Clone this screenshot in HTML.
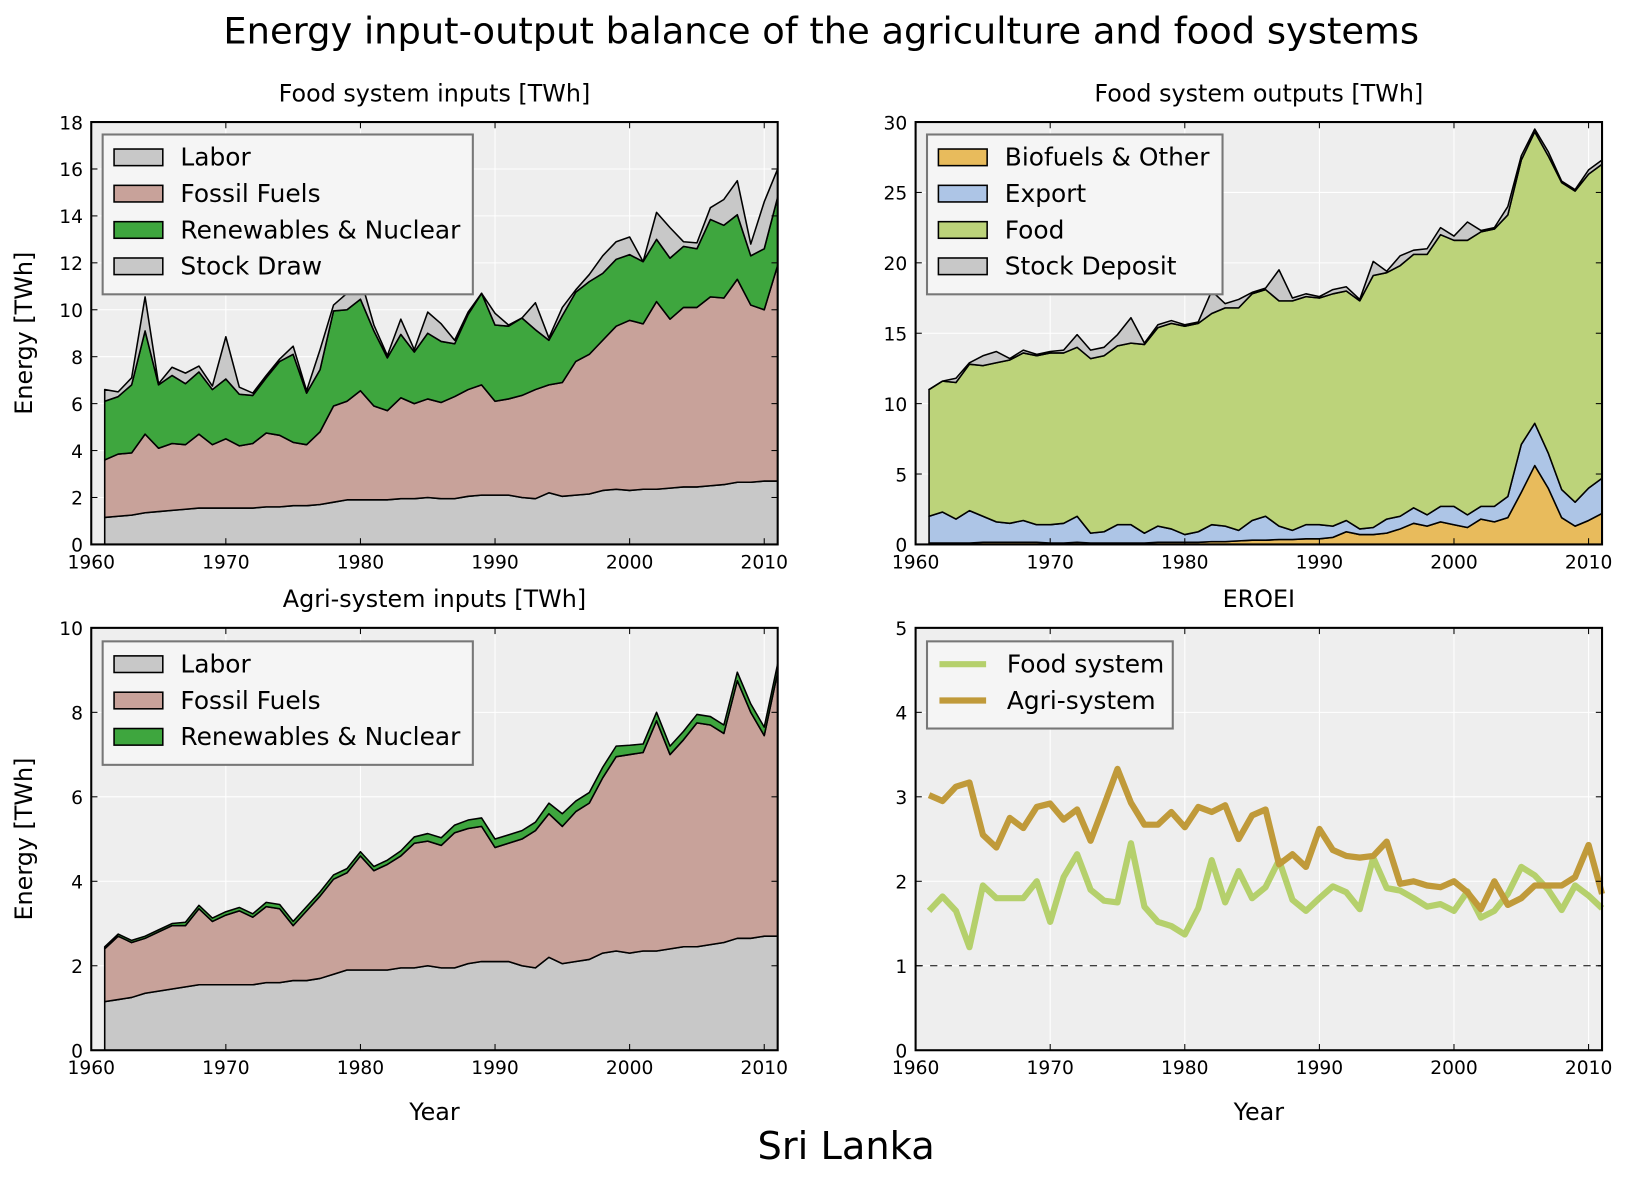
<!DOCTYPE html>
<html><head><meta charset="utf-8"><style>
html,body{margin:0;padding:0;background:#fff;}
svg{display:block;font-family:"DejaVu Sans","Liberation Sans",sans-serif;}
</style></head><body>
<svg id="fig" width="1629" height="1181" viewBox="0 0 1571 1138" preserveAspectRatio="none" xmlns="http://www.w3.org/2000/svg">
<text x="792" y="42" font-size="35.5" text-anchor="middle">Energy input-output balance of the agriculture and food systems</text>
<text x="816" y="1117" font-size="37" text-anchor="middle">Sri Lanka</text>
</svg>
<script>
const years=[];for(let y=1961;y<=2011;y++)years.push(y);
const xTicks=[1960,1970,1980,1990,2000,2010];
const labor=[1.15,1.2,1.25,1.35,1.4,1.45,1.5,1.55,1.55,1.55,1.55,1.55,1.6,1.6,1.65,1.65,1.7,1.8,1.9,1.9,1.9,1.9,1.95,1.95,2.0,1.95,1.95,2.05,2.1,2.1,2.1,2.0,1.95,2.2,2.05,2.1,2.15,2.3,2.35,2.3,2.35,2.35,2.4,2.45,2.45,2.5,2.55,2.65,2.65,2.7,2.7];
const fiFossilCum=[3.6,3.85,3.9,4.7,4.1,4.3,4.25,4.7,4.25,4.5,4.2,4.3,4.75,4.65,4.35,4.25,4.8,5.9,6.1,6.55,5.9,5.7,6.25,6.0,6.2,6.05,6.3,6.6,6.8,6.1,6.2,6.35,6.6,6.8,6.9,7.8,8.1,8.7,9.3,9.55,9.4,10.35,9.6,10.1,10.1,10.55,10.5,11.3,10.2,10.0,11.9];
const fiRenewCum=[6.1,6.3,6.8,9.1,6.8,7.2,6.85,7.35,6.6,7.05,6.4,6.35,7.1,7.8,8.1,6.45,7.45,9.95,10.0,10.45,9.1,7.95,8.95,8.2,9.0,8.65,8.55,9.8,10.7,9.35,9.3,9.65,9.15,8.7,9.75,10.75,11.2,11.55,12.15,12.35,12.05,13.0,12.2,12.7,12.6,13.85,13.6,14.05,12.3,12.6,14.8];
const fiStockCum=[6.6,6.5,7.1,10.55,6.85,7.55,7.3,7.6,6.75,8.85,6.7,6.45,7.2,7.9,8.45,6.55,8.3,10.2,10.7,11.35,9.35,8.05,9.6,8.3,9.9,9.4,8.7,9.9,10.7,9.85,9.35,9.65,10.3,8.8,10.1,10.85,11.5,12.3,12.9,13.1,12.05,14.15,13.5,12.9,12.85,14.35,14.7,15.5,12.8,14.6,16.0];
const foBio=[0.1,0.1,0.1,0.1,0.15,0.15,0.15,0.15,0.15,0.1,0.1,0.15,0.1,0.1,0.1,0.1,0.1,0.15,0.15,0.15,0.15,0.2,0.2,0.25,0.3,0.3,0.35,0.35,0.4,0.4,0.5,0.9,0.7,0.7,0.8,1.1,1.5,1.3,1.6,1.4,1.2,1.8,1.6,1.9,3.7,5.6,4.0,1.9,1.3,1.7,2.2];
const foExportCum=[2.0,2.3,1.8,2.4,2.0,1.6,1.5,1.7,1.4,1.4,1.5,2.0,0.8,0.9,1.4,1.4,0.8,1.3,1.1,0.7,0.9,1.4,1.3,1.0,1.7,2.0,1.3,1.0,1.4,1.4,1.3,1.7,1.1,1.2,1.8,2.0,2.6,2.1,2.7,2.7,2.1,2.7,2.7,3.4,7.1,8.6,6.5,3.9,3.0,4.0,4.7];
const foFoodCum=[11.0,11.6,11.5,12.8,12.7,12.9,13.1,13.6,13.4,13.6,13.6,14.0,13.2,13.4,14.1,14.3,14.2,15.4,15.7,15.5,15.7,16.4,16.8,16.8,17.8,18.1,17.3,17.3,17.6,17.5,17.8,18.0,17.3,19.1,19.3,19.8,20.6,20.6,22.0,21.6,21.6,22.2,22.4,23.4,27.3,29.3,27.6,25.7,25.1,26.3,27.0];
const foStockCum=[11.0,11.6,11.8,12.9,13.4,13.7,13.2,13.8,13.5,13.7,13.8,14.9,13.8,14.0,14.9,16.1,14.3,15.6,15.9,15.6,15.8,18.0,17.1,17.4,17.9,18.2,19.5,17.5,17.8,17.6,18.1,18.3,17.4,20.1,19.4,20.5,20.9,21.0,22.5,21.9,22.9,22.3,22.5,24.0,27.6,29.5,27.9,25.8,25.2,26.6,27.3];
const aiFossilCum=[2.4,2.7,2.55,2.65,2.8,2.95,2.95,3.35,3.05,3.2,3.3,3.15,3.4,3.35,2.95,3.3,3.65,4.05,4.2,4.6,4.25,4.4,4.6,4.9,4.95,4.85,5.15,5.25,5.3,4.8,4.9,5.0,5.2,5.6,5.3,5.65,5.85,6.45,6.95,7.0,7.05,7.8,7.0,7.35,7.75,7.7,7.5,8.75,8.0,7.45,8.95];
const aiRenew=[0.05,0.05,0.05,0.05,0.05,0.05,0.08,0.08,0.08,0.08,0.08,0.08,0.1,0.1,0.1,0.1,0.1,0.1,0.1,0.1,0.1,0.1,0.12,0.15,0.18,0.18,0.18,0.2,0.2,0.2,0.2,0.2,0.2,0.25,0.3,0.25,0.25,0.25,0.25,0.22,0.2,0.2,0.2,0.2,0.2,0.2,0.2,0.2,0.2,0.2,0.2];
const eroeiFood=[1.65,1.82,1.65,1.22,1.95,1.8,1.8,1.8,2.0,1.52,2.05,2.32,1.9,1.77,1.75,2.45,1.7,1.52,1.47,1.37,1.68,2.25,1.75,2.12,1.8,1.93,2.25,1.78,1.65,1.8,1.94,1.87,1.67,2.28,1.92,1.89,1.8,1.7,1.73,1.65,1.88,1.57,1.65,1.85,2.17,2.07,1.9,1.66,1.95,1.83,1.68];
const eroeiAgri=[3.02,2.95,3.12,3.17,2.55,2.4,2.75,2.63,2.88,2.92,2.73,2.85,2.48,2.9,3.33,2.93,2.67,2.67,2.82,2.64,2.88,2.82,2.9,2.5,2.78,2.85,2.2,2.32,2.17,2.62,2.37,2.3,2.28,2.3,2.47,1.97,2.0,1.95,1.93,2.0,1.87,1.67,2.0,1.72,1.8,1.95,1.95,1.95,2.05,2.43,1.85];

const NS='http://www.w3.org/2000/svg';
const svg=document.getElementById('fig');
function mk(tag,attrs,parent){const e=document.createElementNS(NS,tag);for(const k in attrs)e.setAttribute(k,attrs[k]);(parent||svg).appendChild(e);return e;}

function axes(name,x0,y0,w,h,ymax,ystep,title,ylab,xlab){
  const g=mk('g',{});
  
  
  const sx=v=>x0+(v-1960)/(2011-1960)*w;
  const sy=v=>y0+h-v/ymax*h;
  const bg=mk('rect',{x:x0,y:y0,width:w,height:h,fill:'#eeeeee'},g);
  
  
  const grid=mk('g',{stroke:'#ffffff','stroke-width':1},g);
  
  
  xTicks.forEach(t=>mk('line',{x1:sx(t),x2:sx(t),y1:y0,y2:y0+h},grid));
  for(let v=0;v<=ymax+1e-9;v+=ystep)mk('line',{x1:x0,x2:x0+w,y1:sy(v),y2:sy(v)},grid);
  const t=mk('text',{x:x0+w/2,y:y0-20,'font-size':23,'text-anchor':'middle'},g);t.textContent=title;
  
  
  const plot=mk('g',{},g);
  const fin=()=>{
    const tk=mk('g',{stroke:'#000','stroke-width':1},g);
    
    
    const lab=mk('g',{'font-size':18},g);
    
    
    xTicks.forEach(v=>{mk('line',{x1:sx(v),x2:sx(v),y1:y0+h,y2:y0+h-6},tk);mk('line',{x1:sx(v),x2:sx(v),y1:y0,y2:y0+6},tk);
      const l=mk('text',{x:sx(v),y:y0+h+23,'text-anchor':'middle'},lab);l.textContent=v;});
    for(let v=0;v<=ymax+1e-9;v+=ystep){mk('line',{x1:x0,x2:x0+6,y1:sy(v),y2:sy(v)},tk);mk('line',{x1:x0+w,x2:x0+w-6,y1:sy(v),y2:sy(v)},tk);
      const l=mk('text',{x:x0-8,y:sy(v)+7,'text-anchor':'end'},lab);l.textContent=Math.round(v);}
    const fr=mk('rect',{x:x0,y:y0,width:w,height:h,fill:'none',stroke:'#000','stroke-width':2},g);
    
    
    if(ylab){const yl=mk('text',{x:0,y:0,'font-size':23,'text-anchor':'middle',transform:`translate(31,${y0+h/2}) rotate(-90)`},g);yl.textContent=ylab;
      
      }
    if(xlab){const xl=mk('text',{x:x0+w/2,y:y0+h+67,'font-size':23,'text-anchor':'middle'},g);xl.textContent=xlab;
      
      }
  };
  return {g,plot,sx,sy,fin};
}
function stack(ax,layers){
  let prev=years.map(()=>0);
  layers.forEach(([name,cum,color])=>{
    let d='M'+years.map((y,i)=>ax.sx(y)+','+ax.sy(cum[i])).join(' L');
    for(let i=years.length-1;i>=0;i--)d+=' L'+ax.sx(years[i])+','+ax.sy(prev[i]);
    const p=mk('path',{d:d+'Z',fill:color,stroke:'#000','stroke-width':1.5,'stroke-linejoin':'round'},ax.plot);
    
    
    prev=cum;
  });
}
function legend(ax,x,y,w,items,line){
  const h=items.length*35+14;
  const g=mk('g',{},ax.g);
  
  
  mk('rect',{x,y,width:w,height:h,fill:'#f5f5f5',stroke:'#777','stroke-width':2},g);
  items.forEach(([lab,col],i)=>{
    const cy=y+22+i*35;
    const e=mk('g',{},g);
    
    
    if(line)mk('line',{x1:x+12,x2:x+57,y1:cy,y2:cy,stroke:col,'stroke-width':6},e);
    else mk('rect',{x:x+11,y:cy-8,width:47,height:16,fill:col,stroke:'#000','stroke-width':1.5},e);
    const t=mk('text',{x:x+(line?77:75),y:cy+8,'font-size':24},e);t.textContent=lab;
  });
}
const LX=88, RX=883, W=662, TY=117.6, BY=605, H=407;
const a1=axes('food-inputs-chart',LX,TY,W,H,18,2,'Food system inputs [TWh]','Energy [TWh]',null);
stack(a1,[['labor-area',labor,'#c8c8c8'],['fossil-fuels-area',fiFossilCum,'#c8a29a'],['renewables-area',fiRenewCum,'#3ea63e'],['stock-draw-area',fiStockCum,'#c8c8c8']]);
a1.fin();
legend(a1,LX+11,TY+12,357,[['Labor','#c8c8c8'],['Fossil Fuels','#c8a29a'],['Renewables & Nuclear','#3ea63e'],['Stock Draw','#c8c8c8']]);
const a2=axes('food-outputs-chart',RX,TY,W,H,30,5,'Food system outputs [TWh]',null,null);
stack(a2,[['biofuels-area',foBio,'#e8bb5c'],['export-area',foExportCum,'#adc5e6'],['food-area',foFoodCum,'#bcd37a'],['stock-deposit-area',foStockCum,'#c8c8c8']]);
a2.fin();
legend(a2,RX+11,TY+12,285,[['Biofuels & Other','#e8bb5c'],['Export','#adc5e6'],['Food','#bcd37a'],['Stock Deposit','#c8c8c8']]);
const a3=axes('agri-inputs-chart',LX,BY,W,H,10,2,'Agri-system inputs [TWh]','Energy [TWh]','Year');
const aiRenewCum=aiFossilCum.map((v,i)=>v+aiRenew[i]);
stack(a3,[['labor-area',labor,'#c8c8c8'],['fossil-fuels-area',aiFossilCum,'#c8a29a'],['renewables-area',aiRenewCum,'#3ea63e']]);
a3.fin();
legend(a3,LX+11,BY+13,357,[['Labor','#c8c8c8'],['Fossil Fuels','#c8a29a'],['Renewables & Nuclear','#3ea63e']]);
const a4=axes('eroei-chart',RX,BY,W,H,5,1,'EROEI',null,'Year');
const ref=mk('line',{x1:RX,x2:RX+W,y1:a4.sy(1),y2:a4.sy(1),stroke:'#000','stroke-width':1,'stroke-dasharray':'7,7'},a4.plot);


[['food-system-line',eroeiFood,'#b5d06c'],['agri-system-line',eroeiAgri,'#c09a3a']].forEach(([n,arr,c])=>{
  const p=mk('polyline',{points:years.map((y,i)=>a4.sx(y)+','+a4.sy(arr[i])).join(' '),fill:'none',stroke:c,'stroke-width':6,'stroke-linejoin':'round'},a4.plot);
  
  
});
a4.fin();
legend(a4,RX+11,BY+13,237,[['Food system','#b5d06c'],['Agri-system','#c09a3a']],true);
</script>
</body></html>
